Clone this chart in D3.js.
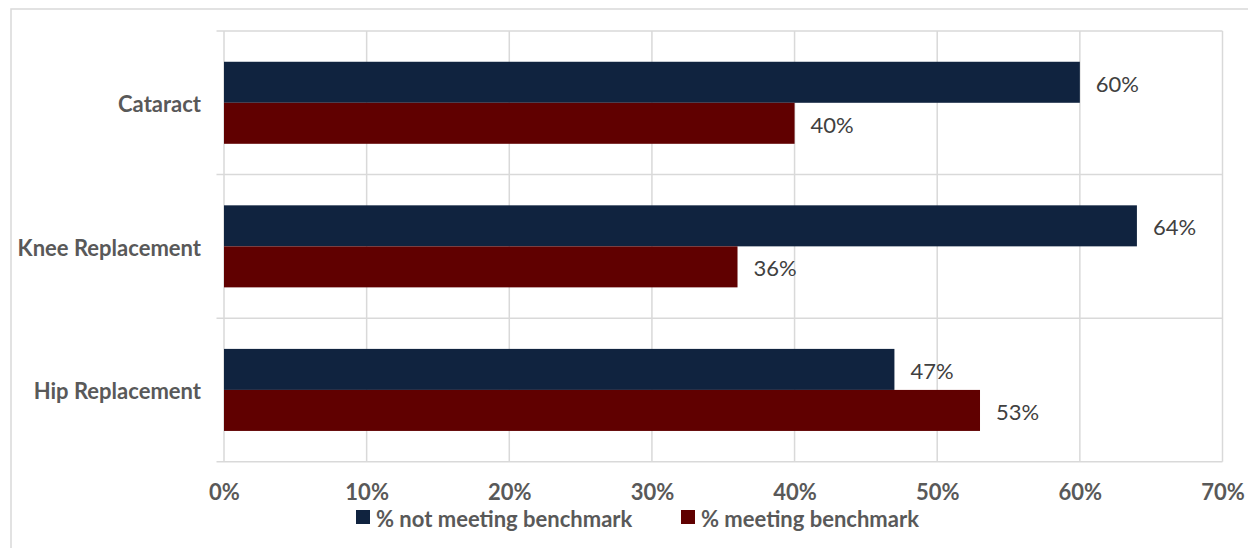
<!DOCTYPE html>
<html>
<head>
<meta charset="utf-8">
<script src="https://cdn.jsdelivr.net/npm/d3@7"></script>
<style>
  html, body { margin: 0; padding: 0; background: #fff; }
  svg { display: block; }
</style>
</head>
<body>
<svg id="chart" width="1248" height="548"></svg>
<script>
// ---- data ----
const categories = ["Cataract", "Knee Replacement", "Hip Replacement"];
const seriesNames = ["% not meeting benchmark", "% meeting benchmark"];
const notMeeting = [0.60, 0.64, 0.47];
const meeting = [0.40, 0.36, 0.53];
const tickValues = [0, 0.1, 0.2, 0.3, 0.4, 0.5, 0.6, 0.7];
const seriesColors = ["#10233F", "#600000"];

const rows = categories.map((c, i) => ({ cat: c, values: [notMeeting[i], meeting[i]] }));

const svg = d3.select("#chart");
const FONT = "Lato, 'Carlito', 'Open Sans', sans-serif";
const GRID = "#D9D9D9";

// outer chart border
svg.append("rect")
  .attr("x", 11).attr("y", 9).attr("width", 1260).attr("height", 560)
  .attr("fill", "none").attr("stroke", GRID).attr("stroke-width", 1.5);

const x = d3.scaleLinear().domain([0, 0.7]).range([224, 1222.5]);
const y = d3.scaleBand().domain(categories).range([31, 461.7]).paddingInner(0).paddingOuter(0);
const ySub = d3.scaleBand().domain([0, 1]).range([0, y.bandwidth()]).paddingInner(0).paddingOuter(0.75);

// vertical gridlines
svg.append("g").selectAll("line").data(tickValues).join("line")
  .attr("x1", d => x(d)).attr("x2", d => x(d))
  .attr("y1", 31).attr("y2", 461.7)
  .attr("stroke", GRID).attr("stroke-width", 1.5);

// horizontal category separators (with tick extension to the left)
const bounds = categories.map(c => y(c)).concat([y(categories[categories.length - 1]) + y.bandwidth()]);
svg.append("g").selectAll("line").data(bounds).join("line")
  .attr("x1", 216.5).attr("x2", x(0.7))
  .attr("y1", d => d).attr("y2", d => d)
  .attr("stroke", GRID).attr("stroke-width", 1.5);

// bars
const groups = svg.append("g").selectAll("g").data(rows).join("g")
  .attr("transform", d => `translate(0,${y(d.cat)})`);

groups.selectAll("rect").data(d => d.values.map((v, i) => ({ v, i }))).join("rect")
  .attr("x", x(0))
  .attr("y", d => ySub(d.i))
  .attr("width", d => x(d.v) - x(0))
  .attr("height", ySub.bandwidth())
  .attr("fill", d => seriesColors[d.i]);

// data labels
groups.selectAll("text").data(d => d.values.map((v, i) => ({ v, i }))).join("text")
  .attr("x", d => x(d.v) + 16)
  .attr("y", d => ySub(d.i) + ySub.bandwidth() / 2 + 1)
  .attr("dominant-baseline", "central")
  .attr("font-family", FONT).attr("font-size", 22).attr("fill", "#404040")
  .text(d => d3.format(".0%")(d.v));

// category labels
svg.append("g").selectAll("text").data(categories).join("text")
  .attr("x", 201)
  .attr("y", d => y(d) + y.bandwidth() / 2 + 1)
  .attr("text-anchor", "end")
  .attr("dominant-baseline", "central")
  .attr("font-family", FONT).attr("font-weight", "bold").attr("font-size", 22)
  .attr("fill", "#595959")
  .text(d => d);

// x axis tick labels
const xAxis = d3.axisBottom(x).tickValues(tickValues).tickFormat(d3.format(".0%")).tickSize(0).tickPadding(0);
const gx = svg.append("g").attr("transform", "translate(0,484)").call(xAxis);
gx.select(".domain").remove();
gx.selectAll("text")
  .attr("font-family", FONT).attr("font-weight", "bold").attr("font-size", 22)
  .attr("fill", "#595959").attr("dy", "0.72em");

// legend
const legendItems = [
  { name: seriesNames[0], color: seriesColors[0], x: 356 },
  { name: seriesNames[1], color: seriesColors[1], x: 681 }
];
const lg = svg.append("g").selectAll("g").data(legendItems).join("g")
  .attr("transform", d => `translate(${d.x},517)`);
lg.append("rect").attr("x", 0).attr("y", -7).attr("width", 14).attr("height", 14)
  .attr("fill", d => d.color);
lg.append("text").attr("x", 20).attr("y", 1).attr("dominant-baseline", "central")
  .attr("font-family", FONT).attr("font-weight", "bold").attr("font-size", 22)
  .attr("fill", "#595959").text(d => d.name);
</script>
</body>
</html>
